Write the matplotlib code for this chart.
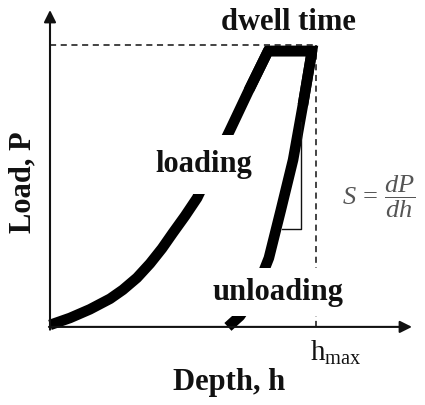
import matplotlib
matplotlib.use("Agg")
import matplotlib.pyplot as plt

# mathtext in the same serif face as the labels
plt.rcParams["mathtext.fontset"] = "custom"
plt.rcParams["mathtext.rm"] = "Liberation Serif"
plt.rcParams["mathtext.it"] = "Liberation Serif:italic"

# Normalised depth / load (h_max = 1, P_max = 1)
h_max = 1.0
p_max = 1.0

# loading branch
load_h = [0.000, 0.075, 0.150, 0.226, 0.274, 0.327, 0.376, 0.421, 0.462,
          0.508, 0.553, 0.617, 0.677, 0.748, 0.820]
load_p = [0.007, 0.032, 0.063, 0.101, 0.133, 0.176, 0.227, 0.281, 0.337,
          0.398, 0.462, 0.588, 0.706, 0.849, 0.989]

# hold at peak load
dwell_h = [0.820, 0.985]
dwell_p = [0.989, 0.989]

# unloading branch
unload_h = [0.985, 0.951, 0.914, 0.868, 0.823, 0.789, 0.752, 0.714, 0.669]
unload_p = [0.989, 0.796, 0.599, 0.419, 0.247, 0.165, 0.093, 0.039, 0.000]

# stiffness triangle on the unloading slope
tri_h = [0.944, 0.944, 0.872]
tri_p = [0.735, 0.351, 0.351]

INK = "#111111"
SERIF = "Liberation Serif"
LW = 7.6

fig = plt.figure(figsize=(4.25, 4.05), dpi=100)
ax = fig.add_axes([0, 0, 1, 1])
ax.set_xlim(-0.188, 1.410)
ax.set_ylim(-0.280, 1.172)
ax.axis("off")

# axes with arrow heads
arrow = dict(arrowstyle="-|>", lw=1.5, color=INK, mutation_scale=18,
             shrinkA=0, shrinkB=0)
ax.annotate("", xy=(1.361, 0), xytext=(-0.004, 0), arrowprops=arrow)
ax.annotate("", xy=(0, 1.136), xytext=(0, -0.01), arrowprops=arrow)

# guide lines at P_max and h_max
ax.plot([0, h_max], [p_max + 0.01, p_max + 0.01], ls=(0, (4, 3)), lw=1.1, color=INK)
ax.plot([h_max, h_max], [0, p_max + 0.01], ls=(0, (4, 3)), lw=1.1, color=INK)

# full load-depth cycle as one thick path (round joins keep the branches smooth)
cyc_h = load_h + dwell_h[1:] + unload_h[1:]
cyc_p = load_p + dwell_p[1:] + unload_p[1:]
ax.plot(cyc_h, cyc_p, color="black", lw=LW, solid_joinstyle="round",
        solid_capstyle="butt")
# square corners at the start and end of the hold
top_h = load_h[-2:] + dwell_h[1:] + unload_h[1:2]
top_p = load_p[-2:] + dwell_p[1:] + unload_p[1:2]
ax.plot(top_h, top_p, color="black", lw=LW, solid_joinstyle="miter",
        solid_capstyle="butt")

ax.plot(tri_h, tri_p, color=INK, lw=1.0)

# labels; the white boxes break the curve behind the text
txt = dict(family=SERIF, fontweight="bold", fontsize=22, color=INK,
           ha="center", va="center")
ax.text(0.895, 1.093, "dwell time", **txt)
ax.text(0.579, 0.582, "loading", zorder=5,
        bbox=dict(boxstyle="square,pad=0.5", fc="white", ec="none"), **txt)
ax.text(0.857, 0.125, "unloading", zorder=5,
        bbox=dict(boxstyle="square,pad=0.3", fc="white", ec="none"), **txt)
ax.text(0.673, -0.200, "Depth, h", **txt)
ax.text(-0.102, 0.52, "Load, P", rotation=90, **txt)

ax.text(0.977, -0.092, r"h$_{\mathrm{max}}$", family=SERIF, fontsize=21,
        color=INK, ha="left", va="center")
ax.text(1.237, 0.466, r"$S\,=\,\dfrac{dP}{dh}$", fontsize=19, color="#555555",
        ha="center", va="center")

fig.savefig("out.png", dpi=100, facecolor="white")
